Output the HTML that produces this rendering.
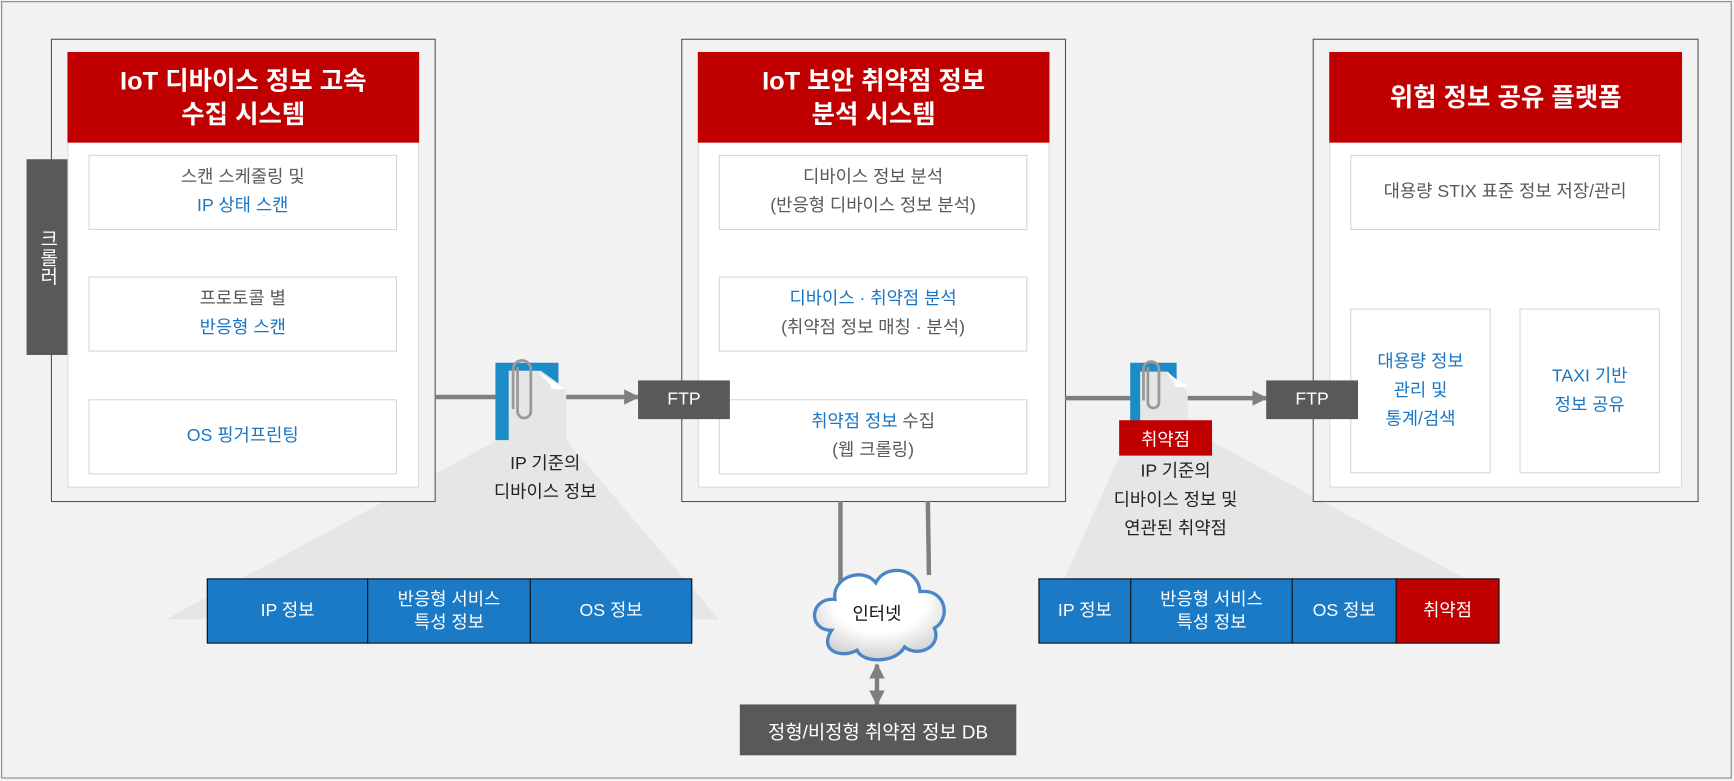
<!DOCTYPE html>
<html><head><meta charset="utf-8"><style>
html,body{margin:0;padding:0;width:1734px;height:781px;overflow:hidden;background:#f2f2f2}
#w{position:absolute;left:0;top:0;width:1568px;height:706px;transform:scale(1.10587);transform-origin:0 0;font-family:"Liberation Sans","Noto Sans CJK KR",sans-serif}
.a{position:absolute;box-sizing:border-box}
.box{border:1px solid #555;background:#f2f2f2}
.in{background:#fff;border:1px solid #ddd}
.hd{background:#c00000;color:#fff;font-weight:bold;font-size:23px;display:flex;align-items:center;justify-content:center;text-align:center;line-height:30px}
.sb{background:#fff;border:1px solid #d6d6d6;display:flex;flex-direction:column;align-items:center;justify-content:center;text-align:center;font-size:16px;line-height:26px;color:#595959}
.b{color:#1a75c2}
.dk{background:#595959;color:#fff;display:flex;align-items:center;justify-content:center;font-size:16px}
.cell{background:#1a7ac6;color:#fff;border:1px solid #111;display:flex;align-items:center;justify-content:center;text-align:center;font-size:16px;line-height:21px}
.lbl{text-align:center;font-size:16px;line-height:26px;color:#222}
</style></head><body><div id="w">
<div class="a" style="left:1px;top:1px;width:1565px;height:703px;border:1px solid #888"></div>
<svg class="a" style="left:0;top:0" width="1568" height="706">
<defs><marker id="ah" viewBox="0 0 10 10" markerWidth="14" markerHeight="14" refX="9" refY="5" orient="auto-start-reverse" markerUnits="userSpaceOnUse"><path d="M0,0 L10,5 L0,10z" fill="#7f7f7f"/></marker></defs>
<polygon points="450,398 512,398 650,560 150,560" fill="#e6e6e6"/>
<polygon points="1020,395 1088,395 1356,540 955,540" fill="#e6e6e6"/>
</svg>
<div class="a box" style="left:46px;top:35px;width:348px;height:419px"></div>
<div class="a in" style="left:61px;top:47px;width:318px;height:394px"></div>
<div class="a hd" style="left:61px;top:47px;width:318px;height:82px">IoT 디바이스 정보 고속<br>수집 시스템</div>
<div class="a sb" style="left:80px;top:140px;width:279px;height:68px"><div>스캔 스케줄링 및</div><div class="b">IP 상태 스캔</div></div>
<div class="a sb" style="left:80px;top:250px;width:279px;height:68px"><div>프로토콜 별</div><div class="b">반응형 스캔</div></div>
<div class="a sb" style="left:80px;top:361px;width:279px;height:68px"><div class="b">OS 핑거프린팅</div></div>
<div class="a dk" style="left:24px;top:144px;width:37px;height:177px;writing-mode:vertical-rl;text-orientation:upright;font-size:17px">크롤러</div>

<div class="a box" style="left:616px;top:35px;width:348px;height:419px"></div>
<div class="a in" style="left:631px;top:47px;width:318px;height:394px"></div>
<div class="a hd" style="left:631px;top:47px;width:318px;height:82px">IoT 보안 취약점 정보<br>분석 시스템</div>
<div class="a sb" style="left:650px;top:140px;width:279px;height:68px"><div>디바이스 정보 분석</div><div>(반응형 디바이스 정보 분석)</div></div>
<div class="a sb" style="left:650px;top:250px;width:279px;height:68px"><div class="b">디바이스 · 취약점 분석</div><div>(취약점 정보 매칭 · 분석)</div></div>
<div class="a sb" style="left:650px;top:361px;width:279px;height:68px"><div><span class="b">취약점 정보</span> 수집</div><div>(웹 크롤링)</div></div>

<div class="a box" style="left:1187px;top:35px;width:349px;height:419px"></div>
<div class="a in" style="left:1202px;top:47px;width:319px;height:394px"></div>
<div class="a hd" style="left:1202px;top:47px;width:319px;height:82px">위험 정보 공유 플랫폼</div>
<div class="a sb" style="left:1221px;top:140px;width:280px;height:68px"><div>대용량 STIX 표준 정보 저장/관리</div></div>
<div class="a sb b" style="left:1221px;top:279px;width:127px;height:149px;color:#1a75c2"><div>대용량 정보</div><div>관리 및</div><div>통계/검색</div></div>
<div class="a sb b" style="left:1374px;top:279px;width:127px;height:149px;color:#1a75c2"><div>TAXI 기반</div><div>정보 공유</div></div>

<svg class="a" style="left:0;top:0" width="1568" height="706">
<line x1="393" y1="359" x2="577" y2="359" stroke="#7f7f7f" stroke-width="4" marker-end="url(#ah)"/>
<line x1="963" y1="360" x2="1145" y2="360" stroke="#7f7f7f" stroke-width="4" marker-end="url(#ah)"/>
<line x1="760" y1="453" x2="760" y2="577" stroke="#7f7f7f" stroke-width="4" marker-end="url(#ah)"/>
<line x1="839" y1="453" x2="840" y2="520" stroke="#7f7f7f" stroke-width="4"/>
<line x1="793" y1="601" x2="793" y2="637" stroke="#7f7f7f" stroke-width="4" marker-start="url(#ah)" marker-end="url(#ah)"/>
<g transform="translate(448,328)">
<path d="M0,0 H57 V70 H0z" fill="#1c8cc8"/>
<path d="M12,10 H41 L64,33 V105 H12z" fill="#e6e6e6" transform="scale(1,0.72)"/>
<path d="M38,8 L64,24 L52,24 Q50,24 50,20z" fill="#fff"/>
<path d="M20,4 v40 a6,6 0 0 0 12,0 v-38 a8,8 0 0 0 -16,0 v36" fill="none" stroke="#999" stroke-width="2.5"/>
</g>
<g transform="translate(1022,328)">
<path d="M0,0 H42 V55 H0z" fill="#1c8cc8"/>
<path d="M9,8 H34 L52,26 V62 H9z" fill="#e6e6e6"/>
<path d="M32,8 L52,22 L42,22 Q40,22 40,18z" fill="#fff"/>
<path d="M16,4 v32 a5,5 0 0 0 10,0 v-30 a7,7 0 0 0 -14,0 v28" fill="none" stroke="#999" stroke-width="2.5"/>
</g>
<defs><radialGradient id="cg" cx="0.5" cy="0.35" r="0.7"><stop offset="0.5" stop-color="#fff"/><stop offset="1" stop-color="#c8c8c8"/></radialGradient></defs>
<path d="M752,570 C730,570 732,540 755,542 C752,522 780,512 792,527 C800,510 830,512 832,535 C856,532 860,560 845,568 C852,585 830,595 818,585 C810,600 780,600 775,588 C760,596 740,588 752,570z" fill="url(#cg)" stroke="#4a86c5" stroke-width="3"/>
<text x="793" y="560" text-anchor="middle" font-size="16" fill="#111" font-family="Liberation Sans,Noto Sans CJK KR,sans-serif">인터넷</text>
</svg>
<div class="a dk" style="left:577px;top:344px;width:83px;height:35px">FTP</div>
<div class="a dk" style="left:1145px;top:344px;width:83px;height:35px">FTP</div>
<div class="a lbl" style="left:413px;top:407px;width:160px">IP 기준의<br>디바이스 정보</div>
<div class="a" style="left:1012px;top:380px;width:84px;height:32px;background:#c00000;color:#fff;display:flex;align-items:center;justify-content:center;font-size:16px">취약점</div>
<div class="a lbl" style="left:983px;top:414px;width:160px">IP 기준의<br>디바이스 정보 및<br>연관된 취약점</div>

<div class="a cell" style="left:187px;top:523px;width:146px;height:59px">IP 정보</div>
<div class="a cell" style="left:332px;top:523px;width:148px;height:59px">반응형 서비스<br>특성 정보</div>
<div class="a cell" style="left:479px;top:523px;width:147px;height:59px">OS 정보</div>
<div class="a cell" style="left:939px;top:523px;width:84px;height:59px">IP 정보</div>
<div class="a cell" style="left:1022px;top:523px;width:147px;height:59px">반응형 서비스<br>특성 정보</div>
<div class="a cell" style="left:1168px;top:523px;width:95px;height:59px">OS 정보</div>
<div class="a cell" style="left:1262px;top:523px;width:94px;height:59px;background:#c00000">취약점</div>
<div class="a dk" style="left:669px;top:637px;width:250px;height:46px;font-size:17px">정형/비정형 취약점 정보 DB</div>
</div></body></html>
